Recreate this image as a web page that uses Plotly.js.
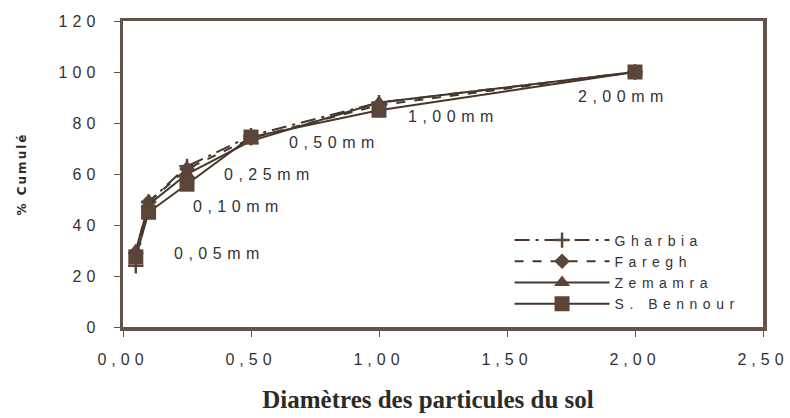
<!DOCTYPE html>
<html>
<head>
<meta charset="utf-8">
<script src="https://cdn.plot.ly/plotly-3.0.1.min.js"></script>
<style>
  html, body { margin: 0; padding: 0; background: #ffffff; }
  #chart { width: 790px; height: 418px; }
  .xtick text, .ytick text { letter-spacing: 5px; }
  .annotation-text { letter-spacing: 5.5px; }
  .legendtext { letter-spacing: 5.5px; }
  .ytitle { letter-spacing: 2px; }
  .g-xtitle { transform: translate(-15px, 0px); }
</style>
</head>
<body>
<div id="chart"></div>
<script>
// Particle diameters (mm)
const diameters = [0.05, 0.10, 0.25, 0.50, 1.00, 2.00];
const pointLabels = ["0,05mm", "0,10mm", "0,25mm", "0,50mm", "1,00mm", "2,00mm"];

// Cumulative percentages per site
const gharbia   = [24, 49, 63, 75, 88, 100];
const faregh    = [29, 49, 62, 74, 87, 100];
const zemamra   = [30, 48, 60, 73, 88, 100];
const sBennour  = [27.5, 45, 56, 74.5, 85, 100];

// Axis ticks
const xTickVals = [0, 0.5, 1.0, 1.5, 2.0, 2.5];
const xTickText = ["0,00", "0,50", "1,00", "1,50", "2,00", "2,50"];
const yTickVals = [0, 20, 40, 60, 80, 100, 120];
const yTickText = ["0", "20", "40", "60", "80", "100", "120"];

// Label anchor positions (data coords, text placement only)
const labelX = [0.19, 0.265, 0.385, 0.64, 1.105, 1.768];
const labelY = [28.7, 47.2, 59.8, 72.4, 82.7, 90.2];

const lineCol = "#47362c";
const markCol = "#5a4538";
const axisCol = "#65534a";
const textCol = "#333333";

const traces = [
  { name: "Gharbia", x: diameters, y: gharbia, mode: "lines+markers",
    line: { color: lineCol, width: 2, dash: "longdashdot" },
    marker: { symbol: "cross-thin-open", size: 11, color: markCol, line: { color: markCol, width: 2.5 } } },
  { name: "Faregh", x: diameters, y: faregh, mode: "lines+markers",
    line: { color: lineCol, width: 2, dash: "dash" },
    marker: { symbol: "diamond", size: 12, color: markCol } },
  { name: "Zemamra", x: diameters, y: zemamra, mode: "lines+markers",
    line: { color: lineCol, width: 2 },
    marker: { symbol: "triangle-up", size: 14, color: markCol } },
  { name: "S. Bennour", x: diameters, y: sBennour, mode: "lines+markers",
    line: { color: lineCol, width: 2 },
    marker: { symbol: "square", size: 15, color: markCol } }
];

const annotations = pointLabels.map((t, i) => ({
  text: t, x: labelX[i], y: labelY[i], xref: "x", yref: "y",
  xanchor: "left", yanchor: "middle", showarrow: false,
  font: { family: "Liberation Sans, Arial, sans-serif", size: 16, color: textCol }
}));

const layout = {
  width: 790, height: 418,
  margin: { l: 123, r: 27, t: 21, b: 91 },
  paper_bgcolor: "#ffffff", plot_bgcolor: "#ffffff",
  showlegend: true,
  legend: {
    x: 0.604, y: 0.335, xanchor: "left", yanchor: "top",
    bgcolor: "rgba(0,0,0,0)", itemwidth: 95,
    font: { family: "Liberation Sans, Arial, sans-serif", size: 14, color: textCol },
    tracegroupgap: 0
  },
  xaxis: {
    range: [0, 2.5], tickvals: xTickVals, ticktext: xTickText,
    showgrid: false, zeroline: false,
    showline: true, linecolor: axisCol, linewidth: 3.5, mirror: true,
    ticks: "outside", ticklen: 6, tickwidth: 1, tickcolor: axisCol,
    ticklabelstandoff: 9,
    tickfont: { family: "Liberation Sans, Arial, sans-serif", size: 16, color: textCol },
    title: { text: "Diamètres des particules du sol", standoff: 25,
      font: { family: "Liberation Serif, Times New Roman, serif", size: 25, color: "#2e2a28", weight: "bold" } }
  },
  yaxis: {
    range: [0, 120], tickvals: yTickVals, ticktext: yTickText,
    showgrid: false, zeroline: false,
    showline: true, linecolor: axisCol, linewidth: 3.5, mirror: true,
    ticks: "outside", ticklen: 6, tickwidth: 1, tickcolor: axisCol,
    ticklabelstandoff: 10,
    tickfont: { family: "Liberation Sans, Arial, sans-serif", size: 16, color: textCol },
    title: { text: "% Cumulé", standoff: 30,
      font: { family: "DejaVu Sans, sans-serif", size: 12, color: "#2e2a28", weight: "bold" } }
  },
  annotations: annotations
};

Plotly.newPlot("chart", traces, layout, { displayModeBar: false, staticPlot: true });
</script>
</body>
</html>
